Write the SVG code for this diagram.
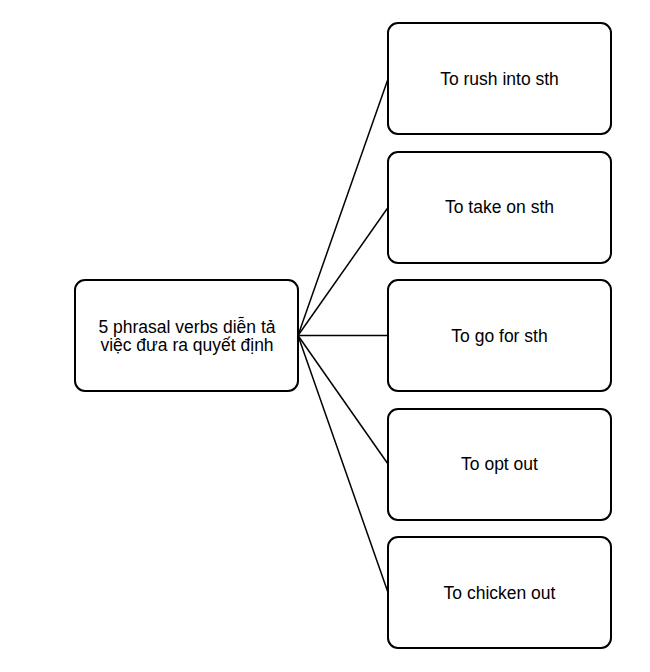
<svg xmlns="http://www.w3.org/2000/svg" width="650" height="672" viewBox="0 0 650 672">
<style>
.box{fill:#fff;stroke:#000;stroke-width:2}
.t{font-family:"Liberation Sans",Arial,sans-serif;font-size:17.5px;fill:#000;text-anchor:middle}
.c{stroke:#000;stroke-width:1.5;fill:none}
</style>
<rect width="650" height="672" fill="#fff"/>
<g id="connectors">
<line class="c" x1="298" y1="335.5" x2="388" y2="79"/>
<line class="c" x1="298" y1="335.5" x2="388" y2="207.5"/>
<line class="c" x1="298" y1="335.5" x2="388" y2="335.5"/>
<line class="c" x1="298" y1="335.5" x2="388" y2="464"/>
<line class="c" x1="298" y1="335.5" x2="388" y2="592.5"/>
</g>
<g id="center">
<rect class="box" x="75" y="280" width="223" height="111" rx="10"/>
<text class="t" x="187" y="333">5 phrasal verbs diễn tả</text>
<text class="t" x="187" y="351">việc đưa ra quyết định</text>
</g>
<g id="n1">
<rect class="box" x="388" y="23" width="223" height="111" rx="10"/>
<text class="t" x="499.5" y="85">To rush into sth</text>
</g>
<g id="n2">
<rect class="box" x="388" y="152" width="223" height="111" rx="10"/>
<text class="t" x="499.5" y="213">To take on sth</text>
</g>
<g id="n3">
<rect class="box" x="388" y="280" width="223" height="111" rx="10"/>
<text class="t" x="499.5" y="342">To go for sth</text>
</g>
<g id="n4">
<rect class="box" x="388" y="409" width="223" height="111" rx="10"/>
<text class="t" x="499.5" y="470">To opt out</text>
</g>
<g id="n5">
<rect class="box" x="388" y="537" width="223" height="111" rx="10"/>
<text class="t" x="499.5" y="599">To chicken out</text>
</g>
</svg>
